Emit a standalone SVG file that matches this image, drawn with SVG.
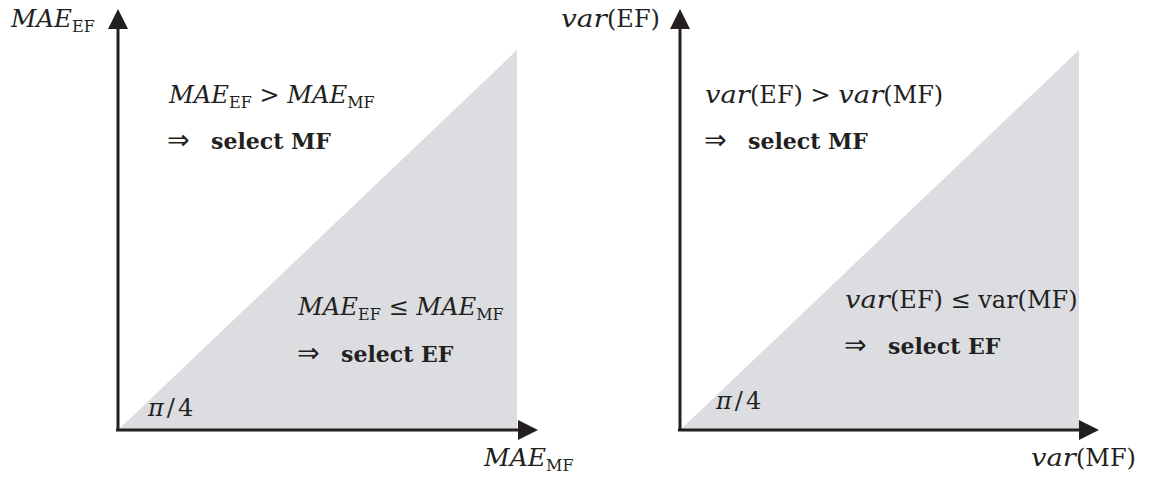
<svg xmlns="http://www.w3.org/2000/svg" width="1152" height="477" viewBox="0 0 1152 477">
<style>
text{font-family:"DejaVu Serif","Liberation Serif",serif;font-size:24px;fill:#231f20}
.it{font-style:italic}
.sub{font-size:16px}
.b{font-weight:bold;font-size:22px}
.ar{font-family:"DejaVu Sans",sans-serif;font-size:27px}
.ax{stroke:#231f20;stroke-width:3;fill:none}
.ah{fill:#231f20}
.sh{fill:#dcdde0}
</style>
<g id="left-panel">
<polygon class="sh" points="118,430 517,430 517,50"/>
</g>
<g id="right-panel">
<polygon class="sh" points="680,430 1079,430 1079,50"/>
</g>
<g id="connectors">
<line class="ax" x1="118" y1="431" x2="118" y2="26"/>
<polygon class="ah" points="118,9 108,29 128,29"/>
<line class="ax" x1="116" y1="430" x2="521" y2="430"/>
<polygon class="ah" points="538,430 518,420 518,440"/>
<line class="ax" x1="680" y1="431" x2="680" y2="26"/>
<polygon class="ah" points="680,9 670,29 690,29"/>
<line class="ax" x1="678" y1="430" x2="1082" y2="430"/>
<polygon class="ah" points="1099,430 1079,420 1079,440"/>
</g>
<g id="left-labels">
<text x="11" y="27"><tspan class="it" textLength="61" lengthAdjust="spacingAndGlyphs">MAE</tspan><tspan class="sub" dy="5">EF</tspan></text>
<text x="484" y="466"><tspan class="it" textLength="62" lengthAdjust="spacingAndGlyphs">MAE</tspan><tspan class="sub" dy="5">MF</tspan></text>
<text x="169" y="103"><tspan class="it" textLength="60" lengthAdjust="spacingAndGlyphs">MAE</tspan><tspan class="sub" dy="5">EF</tspan><tspan dy="-5"> &gt; </tspan><tspan class="it" textLength="60" lengthAdjust="spacingAndGlyphs">MAE</tspan><tspan class="sub" dy="5">MF</tspan></text>
<text x="167" y="149"><tspan class="ar">⇒</tspan><tspan class="b" x="211">select MF</tspan></text>
<text x="298" y="315"><tspan class="it" textLength="60" lengthAdjust="spacingAndGlyphs">MAE</tspan><tspan class="sub" dy="5">EF</tspan><tspan dy="-5"> ≤ </tspan><tspan class="it" textLength="60" lengthAdjust="spacingAndGlyphs">MAE</tspan><tspan class="sub" dy="5">MF</tspan></text>
<text x="297" y="362"><tspan class="ar">⇒</tspan><tspan class="b" x="341">select EF</tspan></text>
<text x="148" y="416"><tspan class="it">π</tspan><tspan dx="3">/</tspan><tspan dx="3">4</tspan></text>
</g>
<g id="right-labels">
<text x="561" y="27"><tspan class="it" textLength="46" lengthAdjust="spacingAndGlyphs">var</tspan>(EF)</text>
<text x="1031" y="466"><tspan class="it" textLength="45" lengthAdjust="spacingAndGlyphs">var</tspan>(MF)</text>
<text x="705" y="103"><tspan class="it" textLength="45" lengthAdjust="spacingAndGlyphs">var</tspan>(EF) &gt; <tspan class="it" textLength="45" lengthAdjust="spacingAndGlyphs">var</tspan>(MF)</text>
<text x="704" y="149"><tspan class="ar">⇒</tspan><tspan class="b" x="748">select MF</tspan></text>
<text x="845" y="308"><tspan class="it" textLength="45" lengthAdjust="spacingAndGlyphs">var</tspan>(EF) ≤ var(MF)</text>
<text x="844" y="354"><tspan class="ar">⇒</tspan><tspan class="b" x="888">select EF</tspan></text>
<text x="716" y="409"><tspan class="it">π</tspan><tspan dx="3">/</tspan><tspan dx="3">4</tspan></text>
</g>
</svg>
